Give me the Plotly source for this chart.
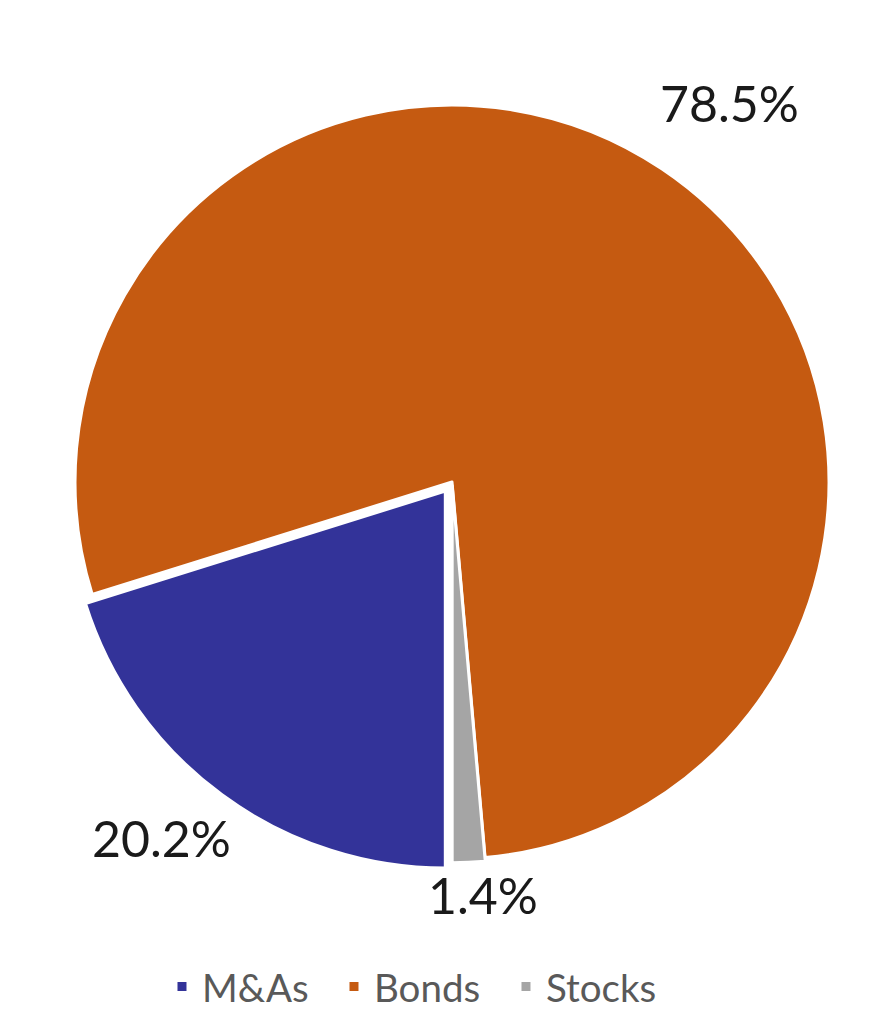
import plotly.graph_objects as go

categories = ["M&As", "Bonds", "Stocks"]
shares = [20.2, 78.5, 1.4]
colors = ["#333399", "#C55A11", "#A5A5A5"]
pulls = [0.03, 0.0, 0.01]

# label anchor positions (paper coords) for the outside percentage labels
label_x = [0.1770, 0.8290, 0.5460]
label_y = [0.1980, 0.9080, 0.1430]

fig = go.Figure(go.Pie(
    labels=categories,
    values=shares,
    sort=False,
    direction="clockwise",
    rotation=180,
    pull=pulls,
    marker=dict(colors=colors, line=dict(color="white", width=3)),
    textinfo="none",
    hoverinfo="label+percent",
    domain=dict(x=[0.0640, 0.9567], y=[0.1669, 0.9172]),
))

for c, s, x, y in zip(categories, shares, label_x, label_y):
    fig.add_annotation(x=x, y=y, xref="paper", yref="paper", text=f"{s:.1f}%",
                       showarrow=False, font=dict(family="Lato", size=50, color="#1a1a1a"),
                       xanchor="center", yanchor="middle")

fig.update_layout(
    width=870, height=1035,
    margin=dict(l=0, r=0, t=0, b=0),
    paper_bgcolor="white",
    plot_bgcolor="white",
    font=dict(family="Lato"),
    showlegend=True,
    legend=dict(orientation="h", x=0.177, xanchor="left", y=0.0541, yanchor="middle",
                font=dict(family="Lato", size=38.5, color="#595959"),
                entrywidth=127, entrywidthmode="pixels", itemclick=False),
)

fig.write_html("out.html")
